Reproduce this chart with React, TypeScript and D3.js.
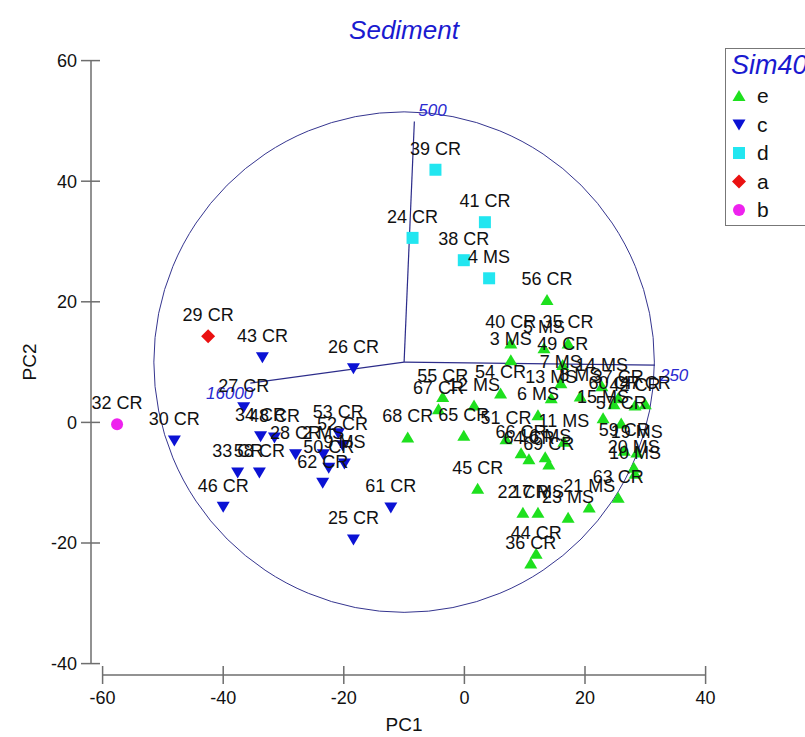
import React from "react";
import * as d3 from "d3";

const WIDTH = 805;
const HEIGHT = 737;

const xTickValues = [-60, -40, -20, 0, 20, 40];
const yTickValues = [-40, -20, 0, 20, 40, 60];

// group e (green, up triangle)
const eLabels = ["56 CR","40 CR","5 MS","35 CR","3 MS","49 CR","7 MS","55 CR","67 CR","12 MS","54 CR","13 MS","8 MS","14 MS","37 CR","60 CR","42 CR","47 CR","6 MS","15 MS","57 CR","68 CR","65 CR","51 CR","11 MS","66 CR","64 CR","16 MS","69 CR","59 CR","19 MS","20 MS","10 MS","45 CR","22 CR","17 MS","23 MS","21 MS","63 CR","44 CR","36 CR"];
const eX = [13.7,7.7,13.2,17.2,7.7,16.3,16.0,-3.6,-4.3,1.6,6.0,14.4,19.2,22.8,25.5,24.8,28.3,30.0,12.2,23.0,26.0,-9.4,-0.1,6.9,16.5,9.4,10.7,13.4,14.0,26.5,28.6,28.1,28.3,2.2,9.7,12.2,17.2,20.7,25.5,11.9,11.0];
const eY = [20.3,13.1,12.3,13.1,10.3,9.5,6.5,4.2,2.2,2.8,4.8,4.0,4.3,6.0,4.0,3.0,2.8,3.0,1.2,0.7,-0.2,-2.5,-2.2,-2.8,-3.2,-5.1,-6.1,-5.8,-7.0,-4.7,-5.0,-7.5,-8.5,-11.0,-15.0,-15.0,-15.8,-14.1,-12.5,-21.8,-23.4];

// group c (blue, down triangle)
const cLabels = ["43 CR","26 CR","30 CR","27 CR","34 CR","48 CR","28 CR","33 CR","58 CR","46 CR","53 CR","52 CR","2 MS","9 MS","50 CR","62 CR","61 CR","25 CR"];
const cX = [-33.5,-18.4,-48.1,-36.6,-33.8,-31.5,-28.0,-37.6,-34.0,-40.0,-20.9,-20.2,-23.4,-19.9,-22.5,-23.5,-12.2,-18.4];
const cY = [10.8,9.0,-3.0,2.5,-2.3,-2.5,-5.3,-8.3,-8.3,-14.0,-1.8,-3.8,-5.3,-6.8,-7.5,-10.0,-14.1,-19.4];

// group d (cyan, square)
const dLabels = ["39 CR","41 CR","24 CR","38 CR","4 MS"];
const dX = [-4.8,3.4,-8.6,-0.1,4.1];
const dY = [41.9,33.2,30.6,26.9,23.9];

// group a (red, diamond)
const aLabels = ["29 CR"];
const aX = [-42.5];
const aY = [14.3];

// group b (magenta, circle)
const bLabels = ["32 CR"];
const bX = [-57.6];
const bY = [-0.3];

const groupNames = ["e", "c", "d", "a", "b"];
const groupColors = ["#1ee01e", "#0b12d4", "#22e6f0", "#ea1111", "#ee22ee"];
const groupShapes = ["up", "down", "square", "diamond", "circle"];

// correlation circle and vectors
const circleCenter = [-10, 10];
const circleRadius = 41.5;
const vectorNames = ["500", "250", "16000"];
const vectorX = [-8.3, 31.6, -35.5];
const vectorY = [49.9, 9.5, 6.5];

const vectorLabelLayout = [
  { dx: 4, dy: -6, anchor: "start" },
  { dx: 5, dy: 16, anchor: "start" },
  { dx: 3, dy: 16, anchor: "end" },
];

const FONT = "Liberation Sans, Arial, sans-serif";

function markerPath(shape: string): string {
  switch (shape) {
    case "up":
      return "M0,-6 L6.5,5 L-6.5,5 Z";
    case "down":
      return "M0,6 L6.5,-5 L-6.5,-5 Z";
    case "square":
      return "M-6,-6 L6,-6 L6,6 L-6,6 Z";
    case "diamond":
      return "M0,-7 L7,0 L0,7 L-7,0 Z";
    default:
      return d3.symbol().type(d3.symbolCircle).size(Math.PI * 36)() || "";
  }
}

export default function App() {
  const x = d3.scaleLinear().domain([-60, 40]).range([102.6, 705.6]);
  const y = d3.scaleLinear().domain([-40, 60]).range([663.6, 60.6]);

  const groups = [
    { labels: eLabels, xs: eX, ys: eY },
    { labels: cLabels, xs: cX, ys: cY },
    { labels: dLabels, xs: dX, ys: dY },
    { labels: aLabels, xs: aX, ys: aY },
    { labels: bLabels, xs: bX, ys: bY },
  ];

  const axisColor = "#6e6e6e";
  const yAxisX = 91;
  const xAxisY = 675;
  const cx = x(circleCenter[0]);
  const cy = y(circleCenter[1]);
  const rPx = x(circleRadius) - x(0);

  return (
    <svg
      width={WIDTH}
      height={HEIGHT}
      style={{ position: "fixed", left: 0, top: 0, background: "#fff" }}
      fontFamily={FONT}
    >
      <rect x={0} y={0} width={WIDTH} height={HEIGHT} fill="#fff" />
      {/* title */}
      <text x={404} y={39} textAnchor="middle" fontSize={26} fontStyle="italic" fill="#1a1ad0">
        Sediment
      </text>

      {/* y axis */}
      <line x1={yAxisX} x2={yAxisX} y1={y(60)} y2={y(-40)} stroke={axisColor} strokeWidth={1.5} />
      {yTickValues.map((t) => (
        <g key={"yt" + t}>
          <line x1={81} x2={100} y1={y(t)} y2={y(t)} stroke={axisColor} strokeWidth={1.5} />
          <text x={77} y={y(t)} dy="0.35em" textAnchor="end" fontSize={18} fill="#111">
            {t}
          </text>
        </g>
      ))}
      <text
        transform={`translate(36,${362}) rotate(-90)`}
        textAnchor="middle"
        fontSize={19}
        fill="#111"
      >
        PC2
      </text>

      {/* x axis */}
      <line x1={x(-60)} x2={x(40)} y1={xAxisY} y2={xAxisY} stroke={axisColor} strokeWidth={1.5} />
      {xTickValues.map((t) => (
        <g key={"xt" + t}>
          <line x1={x(t)} x2={x(t)} y1={666} y2={684} stroke={axisColor} strokeWidth={1.5} />
          <text x={x(t)} y={704} textAnchor="middle" fontSize={18} fill="#111">
            {t}
          </text>
        </g>
      ))}
      <text x={404} y={731} textAnchor="middle" fontSize={19} fill="#111">
        PC1
      </text>

      {/* correlation circle & vectors */}
      <circle cx={cx} cy={cy} r={rPx} fill="none" stroke="#35358f" strokeWidth={1} />
      {vectorNames.map((name, i) => {
        const ex = x(vectorX[i]);
        const ey = y(vectorY[i]);
        const lay = vectorLabelLayout[i];
        return (
          <g key={"v" + name}>
            <line x1={cx} y1={cy} x2={ex} y2={ey} stroke="#2c2c8a" strokeWidth={1.2} />
            <text
              x={ex + lay.dx}
              y={ey + lay.dy}
              textAnchor={lay.anchor}
              fontSize={17}
              fontStyle="italic"
              fill="#2a2ad0"
            >
              {name}
            </text>
          </g>
        );
      })}

      {/* markers */}
      {groups.map((g, gi) =>
        g.labels.map((lab, i) => (
          <path
            key={"m" + gi + "-" + i}
            d={markerPath(groupShapes[gi])}
            transform={`translate(${x(g.xs[i])},${y(g.ys[i])})`}
            fill={groupColors[gi]}
          />
        ))
      )}

      {/* point labels */}
      {groups.map((g, gi) =>
        g.labels.map((lab, i) => (
          <text
            key={"l" + gi + "-" + i}
            x={x(g.xs[i])}
            y={y(g.ys[i]) - 15}
            textAnchor="middle"
            fontSize={18}
            fill="#111"
          >
            {lab}
          </text>
        ))
      )}

      {/* legend */}
      <rect x={725.5} y={48.5} width={100} height={177} fill="#fff" stroke="#777" strokeWidth={1} />
      <text x={731} y={74} fontSize={27} fontStyle="italic" fill="#1a1ad0">
        Sim40
      </text>
      {groupNames.map((n, i) => {
        const ly = 96 + i * 28.5;
        return (
          <g key={"lg" + n}>
            <path d={markerPath(groupShapes[i])} transform={`translate(739,${ly})`} fill={groupColors[i]} />
            <text x={757} y={ly} dy="0.35em" fontSize={21} fill="#111">
              {n}
            </text>
          </g>
        );
      })}
    </svg>
  );
}
